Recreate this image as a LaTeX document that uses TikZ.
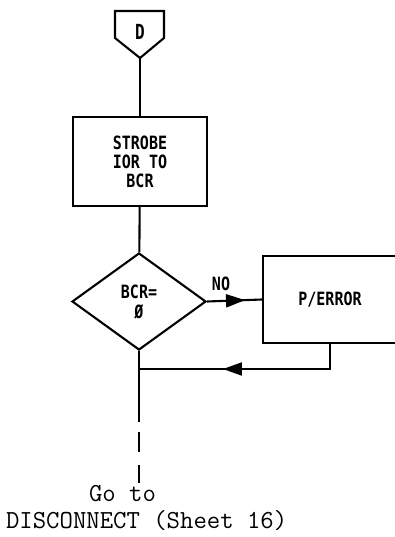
\documentclass[tikz,border=0pt]{standalone}
\usepackage{fontspec}
\newfontfamily\flowfont{DejaVu Sans Mono}
\usetikzlibrary{arrows.meta,shapes.geometric,decorations.markings}
\newcommand{\tall}[1]{\scalebox{1}[1.22]{#1}}

\begin{document}
\begin{tikzpicture}[
  x=1pt, y=-1pt, line width=2.1pt,
  box/.style={rectangle, draw, inner sep=0pt, align=center, minimum width=134pt, font=\flowfont\bfseries\fontsize{15}{19}\selectfont},
  decision/.style={diamond, draw, inner sep=0pt, align=center, minimum width=134pt, minimum height=97pt, font=\flowfont\bfseries\fontsize{15}{20}\selectfont},
  lbl/.style={font=\flowfont\bfseries\fontsize{15}{19}\selectfont},
  note/.style={anchor=west, inner sep=0pt, font=\ttfamily\fontsize{26}{27}\selectfont},
  flow arrow/.style={postaction={decorate}, decoration={markings, mark=at position #1 with {\arrow{Triangle[length=19pt,width=13pt]}}}}
]
  \useasboundingbox (0,0) rectangle (395,537);
  \clip (0,0) rectangle (395,537);

  % off-page connector
  \draw (115,11) -- (164,11) -- (164,38) -- (140,58) -- (115,38) -- cycle;
  \node[lbl, font=\flowfont\bfseries\fontsize{16}{19}\selectfont] (conD) at (140,32) {\scalebox{1}[1.3]{D}};
  \coordinate (conDtip) at (140,58);

  \node[box, minimum height=89pt] (strobe) at (140,161.5) {\tall{STROBE}\\\tall{IOR TO}\\\tall{BCR}};
  \node[decision] (bcr) at (139,301.5) {\tall{BCR=}\\\tall{Ø}};
  \node[box, minimum height=87pt] (perror) at (330,299.5) {\raisebox{-5pt}{\tall{P/ERROR}}};
  \node[lbl] (no) at (221,284) {\tall{NO}};

  \coordinate (join) at (139,369);
  \coordinate (solidend) at (139,422);
  \coordinate (dashstart) at (139,432);
  \coordinate (dashend) at (139,483);

  \draw (conDtip) -- (strobe);
  \draw (strobe) -- (bcr);
  \draw[flow arrow=38pt] (bcr.east) -- (perror.west);
  \draw[flow arrow=132pt] (perror.south) |- (join);
  \draw (bcr.south) -- (solidend);
  \draw[dash pattern=on 20pt off 13pt] (dashstart) -- (dashend);

  \node[note] (goto) at (88,494) {Go to};
  \node[note] (disc) at (5,521) {DISCONNECT (Sheet 16)};
\end{tikzpicture}
\end{document}
